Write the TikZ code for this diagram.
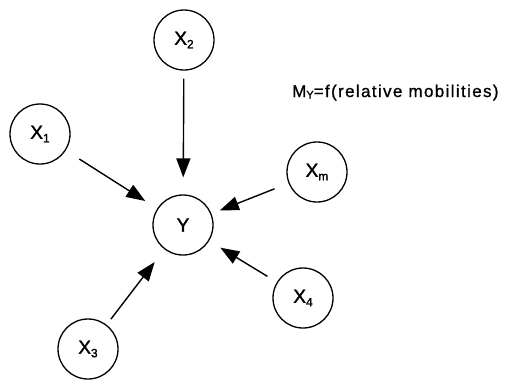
\documentclass[tikz,border=0pt]{standalone}
\usepackage{fontspec}
\setmainfont[FakeBold=1.5]{Liberation Sans}
\newfontfamily\noteface[LetterSpace=8,FakeBold=1]{Liberation Sans}
\usetikzlibrary{arrows.meta}
\newcommand{\varsub}[2]{#1\raisebox{-3.5pt}{\fontsize{12}{12}\selectfont #2}}
\begin{document}
\begin{tikzpicture}[x=1pt,y=-1pt,
  var/.style={circle,draw,line width=1.3pt,minimum size=60pt,inner sep=0pt,
    font=\fontsize{19}{19}\selectfont},
  infl/.style={line width=1.4pt,-{Triangle[length=19pt,width=14pt]}}]
\useasboundingbox (0,0) rectangle (514,381);
\node[var] (x2) at (184,40) {\varsub{X}{2}};
\node[var] (x1) at (40,134) {\varsub{X}{1}};
\node[var] (y)  at (183,225) {Y};
\node[var] (xm) at (317,172) {\varsub{X}{m}};
\node[var] (x4) at (303,298) {\varsub{X}{4}};
\node[var] (x3) at (88,349) {\varsub{X}{3}};
\node[anchor=base west,inner sep=0pt,font=\noteface\fontsize{17}{17}\selectfont] (note) at (292,97)
  {M\raisebox{-1.5pt}{\fontsize{11}{11}\selectfont Y}=f(relative mobilities)};
\draw[infl,shorten <=8pt,shorten >=17pt] (x2) -- (y);
\draw[infl,shorten <=16pt,shorten >=14pt] (x1) -- (y);
\draw[infl,shorten <=15pt,shorten >=9pt] (xm) -- (y);
\draw[infl,shorten <=11pt,shorten >=13pt] (x4) -- (y);
\draw[infl,shorten <=7pt,shorten >=16pt] (x3) -- (y);
\end{tikzpicture}
\end{document}
